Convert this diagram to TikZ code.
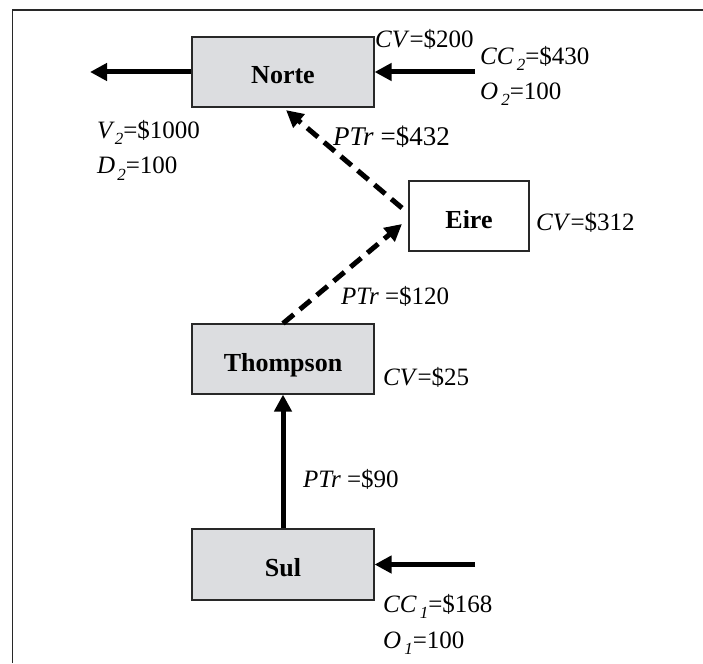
\documentclass[tikz,border=0pt]{standalone}
\usepackage{fontspec}
\setmainfont{Liberation Serif}
\usetikzlibrary{arrows.meta}
\definecolor{boxfill}{RGB}{220,221,224}
\definecolor{edgecol}{RGB}{40,40,40}
\newcommand\mysub[1]{\raisebox{-6pt}{\fontsize{17}{17}\selectfont\itshape #1}}
\begin{document}
\begin{tikzpicture}[x=1pt,y=-1pt,
  box/.style={draw=edgecol,line width=1.1pt,fill=boxfill,minimum width=182pt,minimum height=70pt,inner sep=0pt,
    font=\fontsize{26}{30}\selectfont\bfseries,text height=24pt,text depth=0pt},
  flow/.style={line width=5pt,-{Triangle[length=17pt,width=17pt]}},
  dflow/.style={flow,dash pattern=on 14pt off 8pt},
  lab/.style={anchor=base west,inner sep=0pt,font=\fontsize{25}{28}\selectfont}]
\useasboundingbox (0,0) rectangle (703,663);
\draw[line width=1.5pt,edgecol] (12.5,663) -- (12.5,10) -- (703,10);

\node[box] (norte) at (283,72) {Norte};
\node[box,fill=white,minimum width=120pt] (eire) at (469,216) {Eire};
\node[box] (thompson) at (283,359) {Thompson};
\node[box,minimum height=71pt] (sul) at (283,564.5) {Sul};

\coordinate (vout) at (90,72);
\coordinate (cin2) at (475,72);
\coordinate (cin1) at (475,564.5);
\coordinate (efrom) at (402,208);
\coordinate (eto) at (402,224);

\draw[flow] (norte.west) -- (vout);
\draw[flow] (cin2) -- (norte.east);
\draw[flow] (cin1) -- (sul.east);
\draw[flow] (sul.north) -- (thompson.south);
\draw[dflow] (thompson.north) -- (eto);
\draw[dflow,shorten >=4pt] (efrom) -- (norte.south);

\node[lab] (cv200) at (375,48) {\textit{CV}=\$200};
\node[lab] (cc2) at (480,65) {\textit{CC}\kern3pt\mysub{2}=\$430};
\node[lab] (o2) at (480,100) {\textit{O}\kern3pt\mysub{2}=100};
\node[lab] (v2) at (97,139) {\textit{V}\mysub{2}=\$1000};
\node[lab] (d2) at (97,174) {\textit{D}\kern2pt\mysub{2}=100};
\node[lab,font=\fontsize{27}{30}\selectfont] (p432) at (333,146) {\textit{PTr} =\$432};
\node[lab] (cv312) at (536,230) {\textit{CV}=\$312};
\node[lab] (p120) at (341,304) {\textit{PTr} =\$120};
\node[lab] (cv25) at (383,385) {\textit{CV}=\$25};
\node[lab] (p90) at (303,487) {\textit{PTr} =\$90};
\node[lab] (cc1) at (383,612) {\textit{CC}\kern3pt\mysub{1}=\$168};
\node[lab] (o1) at (383,648) {\textit{O}\kern3pt\mysub{1}=100};
\end{tikzpicture}
\end{document}
